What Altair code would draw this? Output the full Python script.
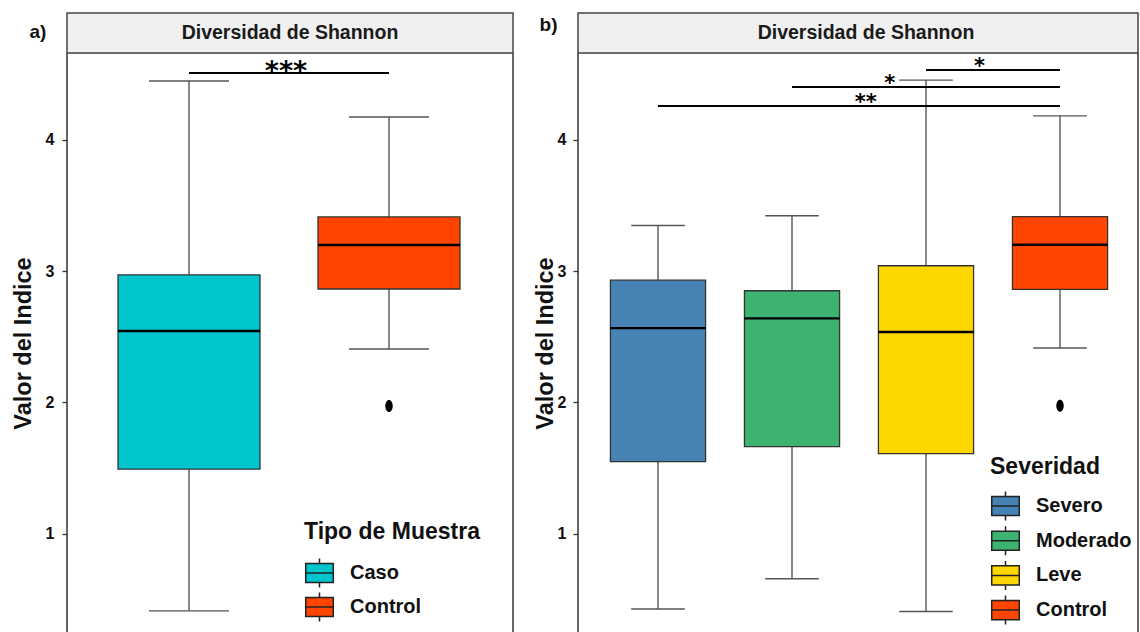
import altair as alt
import pandas as pd

# ---------------- data ----------------
y_title = "Valor del Indice"
strip_title = "Diversidad de Shannon"
y_ticks = [1, 2, 3, 4]

# panel a
tag_a = "a)"
legend_title_a = "Tipo de Muestra"
cat_a = ["Caso", "Control"]
color_a = ["#00C5CD", "#FF4500"]
q1_a = [1.494, 2.863]
median_a = [2.544, 3.198]
q3_a = [2.970, 3.411]
whisk_lo_a = [0.415, 2.407]
whisk_hi_a = [4.445, 4.171]
outlier_cat_a = ["Control"]
outlier_val_a = [1.974]
sig_from_a = ["Caso"]
sig_to_a = ["Control"]
sig_y_a = [4.506]
sig_label_a = ["***"]
sig_label_pos_a = [1.485]

# panel b
tag_b = "b)"
legend_title_b = "Severidad"
cat_b = ["Severo", "Moderado", "Leve", "Control"]
color_b = ["#4682B4", "#3CB371", "#FFD700", "#FF4500"]
q1_b = [1.551, 1.665, 1.611, 2.861]
median_b = [2.566, 2.640, 2.536, 3.200]
q3_b = [2.930, 2.850, 3.040, 3.414]
whisk_lo_b = [0.430, 0.660, 0.410, 2.414]
whisk_hi_b = [3.346, 3.420, 4.452, 4.180]
outlier_cat_b = ["Control"]
outlier_val_b = [1.975]
sig_from_b = ["Leve", "Moderado", "Severo"]
sig_to_b = ["Control", "Control", "Control"]
sig_y_b = [4.528, 4.399, 4.255]
sig_label_b = ["*", "*", "**"]
sig_label_pos_b = [3.40, 2.73, 2.55]

# ---------------- style ----------------
BOX_HALF = 0.355
CAP_HALF = 0.2
Y_DOM = [0.247, 4.658]
H = 580
STRIP = 40
FRAME = "#444444"
KEY_PATH = ("M-0.95,-0.66H0.95V0.66H-0.95Z M-0.95,0H0.95 "
            "M0,-0.66V-1 M0,0.66V1")
ELLIPSE = "M0,-1 A0.62,1 0 1,1 0,1 A0.62,1 0 1,1 0,-1 Z"


def build(cats, colors, q1, med, q3, lo, hi, ocat, oval, sfrom, sto, sy, slab, spos,
          width, xdom, legend_title, legend_x, legend_y, title_pad, row_pad,
          title_x, label_pad, tag, tag_x, tag_y, strip_dx, star_size, star_dy):
    idx = {c: i + 1 for i, c in enumerate(cats)}
    box = pd.DataFrame({"cat": cats, "pos": [idx[c] for c in cats], "q1": q1,
                        "med": med, "q3": q3, "lo": lo, "hi": hi})
    box["left"] = box["pos"] - BOX_HALF
    box["right"] = box["pos"] + BOX_HALF
    box["capl"] = box["pos"] - CAP_HALF
    box["capr"] = box["pos"] + CAP_HALF
    outl = pd.DataFrame({"pos": [idx[c] for c in ocat], "val": oval})
    sig = pd.DataFrame({"x1": [idx[c] for c in sfrom], "x2": [idx[c] for c in sto],
                        "y": sy, "label": slab, "lx": spos})
    one = pd.DataFrame({"t": [strip_title], "tag": [tag]})

    xs = alt.Scale(domain=xdom, nice=False, zero=False)
    ys = alt.Scale(domain=Y_DOM, nice=False, zero=False)
    yaxis = alt.Axis(values=y_ticks, format="d", grid=False, domain=False,
                     tickSize=5, tickColor="#333333", tickWidth=1.3,
                     labelPadding=label_pad, labelFont="Liberation Sans",
                     labelFontSize=16, labelFontWeight="bold", labelColor="#111111",
                     titleFont="Liberation Sans", titleFontSize=23.5,
                     titleFontWeight="bold", titleColor="#111111",
                     titleX=title_x, titleBaseline="middle", titleAngle=270,
                     titleAlign="center")

    def X(f):
        return alt.X(f, scale=xs, axis=None)

    def Y(f):
        return alt.Y(f, scale=ys, axis=yaxis, title=y_title)

    base = alt.Chart(box)
    strip = alt.Chart(one).mark_rect(fill="#f0f0f0", stroke=FRAME, strokeWidth=1.5).encode(
        x=alt.value(0), x2=alt.value(width), y=alt.value(-STRIP), y2=alt.value(0))
    strip_text = alt.Chart(one).mark_text(font="Liberation Sans", fontSize=19.5,
                                          fontWeight="bold", color="#1a1a1a",
                                          baseline="middle", dx=strip_dx).encode(
        x=alt.value(width / 2), y=alt.value(-STRIP / 2), text="t:N")
    tag_text = alt.Chart(one).mark_text(font="Liberation Sans", fontSize=19,
                                        fontWeight="bold", color="#111111",
                                        baseline="middle", align="center").encode(
        x=alt.value(tag_x), y=alt.value(tag_y), text="tag:N")
    left_edge = alt.Chart(one).mark_rule(color=FRAME, strokeWidth=1.6).encode(
        x=alt.value(0), y=alt.value(0), y2=alt.value(H))
    right_edge = alt.Chart(one).mark_rule(color=FRAME, strokeWidth=1.6).encode(
        x=alt.value(width), y=alt.value(0), y2=alt.value(H))

    wl = dict(color="#555555", strokeWidth=1.4)
    whisk_up = base.mark_rule(**wl).encode(x=X("pos:Q"), y=Y("q3:Q"), y2="hi:Q")
    whisk_dn = base.mark_rule(**wl).encode(x=X("pos:Q"), y=Y("lo:Q"), y2="q1:Q")
    cap_up = base.mark_rule(**wl).encode(x=X("capl:Q"), x2="capr:Q", y=Y("hi:Q"))
    cap_dn = base.mark_rule(**wl).encode(x=X("capl:Q"), x2="capr:Q", y=Y("lo:Q"))
    boxes = base.mark_rect(stroke="#333333", strokeWidth=1.3).encode(
        x=X("left:Q"), x2="right:Q", y=Y("q1:Q"), y2="q3:Q",
        color=alt.Color("cat:N", scale=alt.Scale(domain=cats, range=colors),
                        legend=alt.Legend(
                            orient="none", legendX=legend_x, legendY=legend_y,
                            direction="vertical", title=legend_title,
                            titleFont="Liberation Sans", titleFontSize=23,
                            titleFontWeight="bold", titleColor="#111111",
                            titlePadding=title_pad, titleBaseline="top",
                            labelFont="Liberation Sans", labelFontSize=20,
                            labelFontWeight="bold", labelColor="#111111",
                            labelOffset=15, symbolType=KEY_PATH, symbolSize=841,
                            symbolStrokeColor="#222222", symbolStrokeWidth=1.5,
                            symbolOpacity=1, rowPadding=row_pad, padding=0)))
    medians = base.mark_rule(color="black", strokeWidth=2.4).encode(
        x=X("left:Q"), x2="right:Q", y=Y("med:Q"))
    outs = alt.Chart(outl).mark_point(shape=ELLIPSE, filled=True, size=144,
                                      color="black", opacity=1).encode(
        x=X("pos:Q"), y=Y("val:Q"))
    sig_lines = alt.Chart(sig).mark_rule(color="black", strokeWidth=2).encode(
        x=X("x1:Q"), x2="x2:Q", y=Y("y:Q"))
    sig_text = alt.Chart(sig).mark_text(font="DejaVu Sans", fontSize=star_size,
                                        fontWeight="bold", dy=star_dy,
                                        baseline="alphabetic",
                                        align="center", color="black").encode(
        x=X("lx:Q"), y=Y("y:Q"), text="label:N")

    return alt.layer(strip, strip_text, tag_text, whisk_up, whisk_dn, cap_up, cap_dn,
                     boxes, medians, outs, sig_lines, sig_text, left_edge,
                     right_edge).properties(width=width, height=H)


panel_a = build(cat_a, color_a, q1_a, median_a, q3_a, whisk_lo_a, whisk_hi_a,
                outlier_cat_a, outlier_val_a, sig_from_a, sig_to_a, sig_y_a,
                sig_label_a, sig_label_pos_a,
                width=446, xdom=[0.39, 2.62], legend_title=legend_title_a,
                legend_x=237, legend_y=467.5, title_pad=14, row_pad=-1,
                title_x=-44, label_pad=8, tag=tag_a, tag_x=-29, tag_y=-21,
                strip_dx=0, star_size=27, star_dy=7)

panel_b = build(cat_b, color_b, q1_b, median_b, q3_b, whisk_lo_b, whisk_hi_b,
                outlier_cat_b, outlier_val_b, sig_from_b, sig_to_b, sig_y_b,
                sig_label_b, sig_label_pos_b,
                width=560, xdom=[0.403, 4.582], legend_title=legend_title_b,
                legend_x=412, legend_y=402.5, title_pad=12, row_pad=-0.3,
                title_x=-33, label_pad=7, tag=tag_b, tag_x=-29.5, tag_y=-28.5,
                strip_dx=8, star_size=21, star_dy=3)

chart = alt.hconcat(panel_a, panel_b, spacing=65, bounds="flush").resolve_scale(
    color="independent", x="independent", y="independent"
).properties(
    padding={"left": 10, "top": 11, "right": 0, "bottom": 0},
    background="white",
).configure_view(stroke=None).configure(font="Liberation Sans")

chart.save("out.html", embed_options={"renderer": "svg", "actions": False})
